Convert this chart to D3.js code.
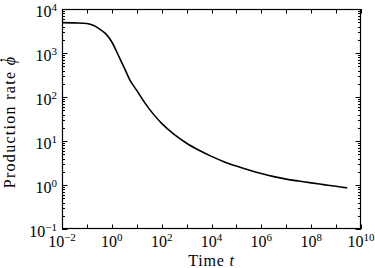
<!DOCTYPE html>
<html><head><meta charset="utf-8">
<script src="https://cdn.jsdelivr.net/npm/d3@7"></script>
<style>
html,body{margin:0;padding:0;background:#fff;}
svg{display:block;}
</style></head>
<body>
<svg id="c" width="375" height="268"></svg>
<script>
// Data
const timeValues = [0.01, 0.0316, 0.1, 0.178, 0.316, 0.562, 1, 1.78, 3.16, 5.62, 10, 17.8, 31.6, 100, 316, 1000, 3160, 1e4, 3.16e4, 1e5, 3.16e5, 1e6, 3.16e6, 1e7, 3.16e7, 1e8, 3.16e8, 1e9, 2.8e9];
const rateValues = [4900, 4840, 4680, 4270, 3550, 2750, 1780, 912, 457, 229, 141, 85.1, 53.7, 25.1, 14.1, 8.91, 6.17, 4.47, 3.39, 2.69, 2.19, 1.82, 1.55, 1.36, 1.23, 1.12, 1.02, 0.933, 0.861];
const xTickExponents = [-2, 0, 2, 4, 6, 8, 10];
const yTickExponents = [-1, 0, 1, 2, 3, 4];
const xLabel = "Time ";
const xLabelVar = "t";
const yLabel = "Production rate ";
const yLabelVar = "\u03D5";

const FONT = "'Liberation Serif', 'DejaVu Serif', serif";
const W = 375, H = 268;
const m = {left: 62, right: 14, top: 9, bottom: 39};
const svg = d3.select("#c");
const x = d3.scaleLog().domain([1e-2, 1e10]).range([m.left, W - m.right]);
const y = d3.scaleLog().domain([1e-1, 1e4]).range([H - m.bottom, m.top]);
const x0 = m.left, x1 = W - m.right, y0 = H - m.bottom, y1 = m.top;

// x ticks (every decade), top and bottom, inward
const xDecades = d3.range(-2, 11).map(e => Math.pow(10, e));
const g = svg.append("g").attr("stroke", "#000").attr("stroke-width", 1);
xDecades.forEach(v => {
  const px = Math.round(x(v)) + 0.5;
  g.append("line").attr("x1", px).attr("x2", px).attr("y1", y0).attr("y2", y0 - 4.5);
  g.append("line").attr("x1", px).attr("x2", px).attr("y1", y1).attr("y2", y1 + 4.5);
});
// y ticks major + minor, left and right
yTickExponents.forEach(e => {
  const v = Math.pow(10, e);
  const py = Math.round(y(v)) + 0.5;
  g.append("line").attr("x1", x0).attr("x2", x0 + 5.5).attr("y1", py).attr("y2", py);
  g.append("line").attr("x1", x1).attr("x2", x1 - 5.5).attr("y1", py).attr("y2", py);
  if (e < 4) {
    for (let k = 2; k <= 9; k++) {
      const pm = Math.round(y(k * v)) + 0.5;
      g.append("line").attr("x1", x0).attr("x2", x0 + 3).attr("y1", pm).attr("y2", pm);
      g.append("line").attr("x1", x1).attr("x2", x1 - 3).attr("y1", pm).attr("y2", pm);
    }
  }
});

// Curve
const line = d3.line().x((d, i) => x(timeValues[i])).y(d => y(d)).curve(d3.curveCatmullRom.alpha(0.5));
svg.append("path").datum(rateValues).attr("d", line)
  .attr("fill", "none").attr("stroke", "#000").attr("stroke-width", 1.6);

// Frame
svg.append("rect").attr("x", x0 + 0.5).attr("y", y1 + 0.5)
  .attr("width", x1 - x0 - 1).attr("height", y0 - y1 - 1)
  .attr("fill", "none").attr("stroke", "#000").attr("stroke-width", 1.2);

// x tick labels
xTickExponents.forEach(e => {
  const t = svg.append("text").attr("x", x(Math.pow(10, e))).attr("y", y0 + 17.5)
    .attr("text-anchor", "middle").attr("font-size", 16).attr("font-family", FONT);
  t.append("tspan").text("10");
  t.append("tspan").attr("dy", -6).attr("font-size", 11).text(e < 0 ? "\u2212" + (-e) : String(e));
});
// y tick labels
yTickExponents.forEach(e => {
  const t = svg.append("text").attr("x", x0 - 5).attr("y", y(Math.pow(10, e)) + 7.5)
    .attr("text-anchor", "end").attr("font-size", 16).attr("font-family", FONT);
  t.append("tspan").text("10");
  t.append("tspan").attr("dy", -6).attr("font-size", 11).text(e < 0 ? "\u2212" + (-e) : String(e));
});

// axis labels
const xl = svg.append("text").attr("x", (x0 + x1) / 2).attr("y", 266)
  .attr("text-anchor", "middle").attr("font-size", 16).attr("font-family", FONT).attr("letter-spacing", 0.8);
xl.append("tspan").text(xLabel);
xl.append("tspan").attr("font-style", "italic").text(xLabelVar);

const yg = svg.append("g").attr("transform", "translate(15,122) rotate(-90)");
const yl = yg.append("text").attr("x", 0).attr("y", 0)
  .attr("text-anchor", "middle").attr("font-size", 16).attr("font-family", FONT).attr("letter-spacing", 1.3);
yl.append("tspan").text(yLabel);
yl.append("tspan").attr("font-style", "italic").text(yLabelVar);
// dot accent over phi
const n = yl.node();
const idx = yLabel.length;
const ext = n.getExtentOfChar(idx);
yg.append("circle").attr("cx", ext.x + (ext.width - 1.3) / 2 + 1).attr("cy", -13.5).attr("r", 1.1).attr("fill", "#000");
</script>
</body></html>
